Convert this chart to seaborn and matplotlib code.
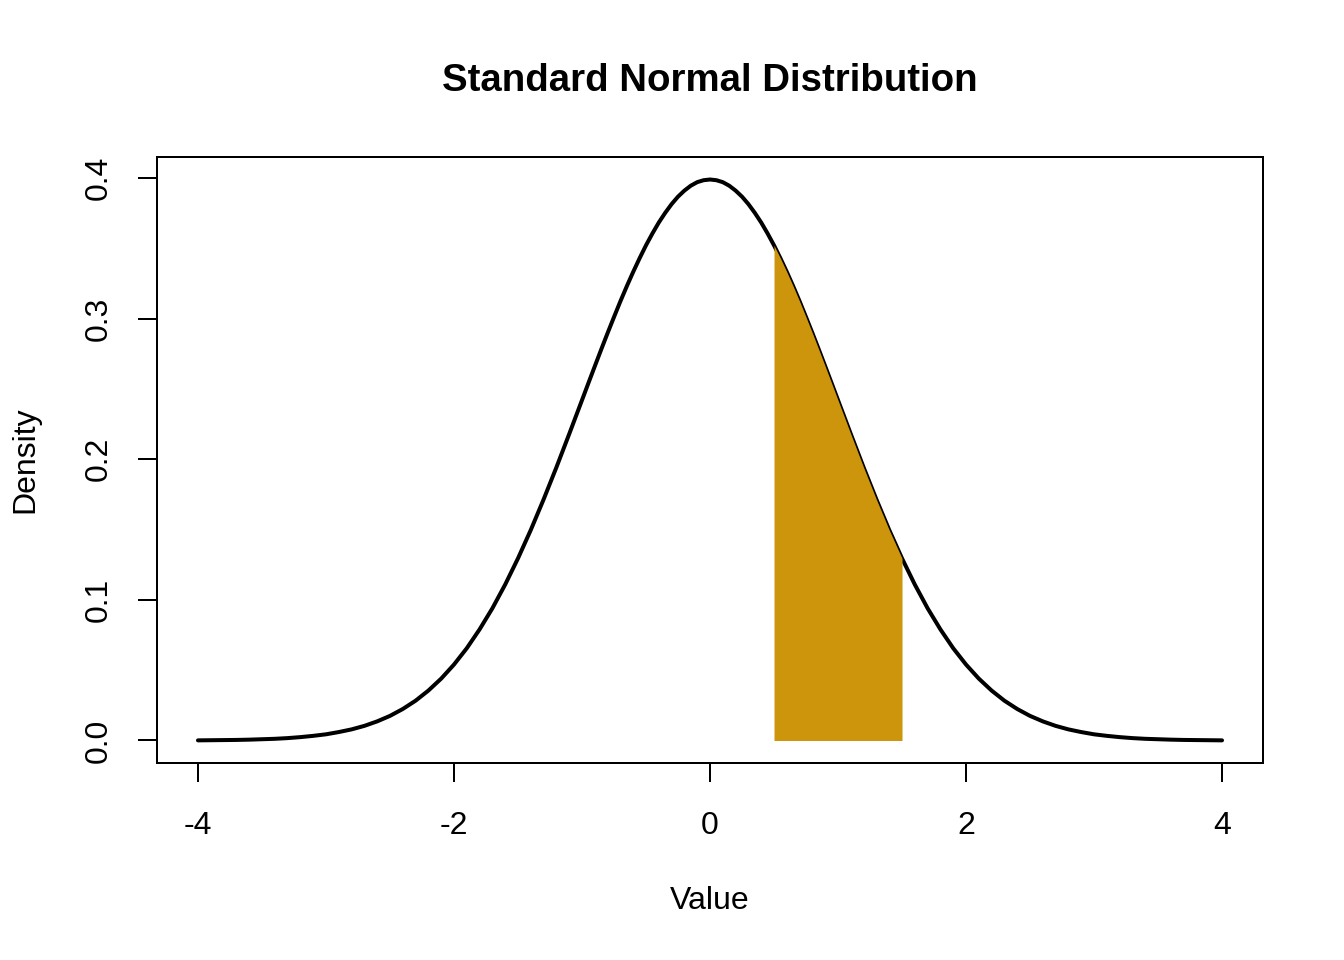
import matplotlib
matplotlib.use("Agg")
import matplotlib.pyplot as plt
import seaborn as sns
import numpy as np

# density values (finer steps around the peak)
x_vals = [-4.0, -3.9, -3.8, -3.7, -3.6, -3.5, -3.4, -3.3, -3.2, -3.1,
          -3.0, -2.9, -2.8, -2.7, -2.6, -2.5, -2.4, -2.3, -2.2, -2.1,
          -2.0, -1.9, -1.8, -1.7, -1.6, -1.5, -1.4, -1.3, -1.2, -1.1,
          -1.0, -0.95, -0.9, -0.85, -0.8, -0.75, -0.7, -0.65, -0.6, -0.55,
          -0.5, -0.45, -0.4, -0.35, -0.3, -0.25, -0.2, -0.15, -0.1, -0.05,
          0.0, 0.05, 0.1, 0.15, 0.2, 0.25, 0.3, 0.35, 0.4, 0.45,
          0.5, 0.55, 0.6, 0.65, 0.7, 0.75, 0.8, 0.85, 0.9, 0.95,
          1.0, 1.1, 1.2, 1.3, 1.4, 1.5, 1.6, 1.7, 1.8, 1.9,
          2.0, 2.1, 2.2, 2.3, 2.4, 2.5, 2.6, 2.7, 2.8, 2.9,
          3.0, 3.1, 3.2, 3.3, 3.4, 3.5, 3.6, 3.7, 3.8, 3.9, 4.0]
density = [0.0001, 0.0002, 0.0003, 0.0004, 0.0006, 0.0009, 0.0012, 0.0017, 0.0024, 0.0033,
           0.0044, 0.0060, 0.0079, 0.0104, 0.0136, 0.0175, 0.0224, 0.0283, 0.0355, 0.0440,
           0.0540, 0.0656, 0.0790, 0.0940, 0.1109, 0.1295, 0.1497, 0.1714, 0.1942, 0.2179,
           0.2420, 0.2541, 0.2661, 0.2780, 0.2897, 0.3011, 0.3123, 0.3230, 0.3332, 0.3429,
           0.3521, 0.3605, 0.3683, 0.3752, 0.3814, 0.3867, 0.3910, 0.3945, 0.3970, 0.3984,
           0.3989, 0.3984, 0.3970, 0.3945, 0.3910, 0.3867, 0.3814, 0.3752, 0.3683, 0.3605,
           0.3521, 0.3429, 0.3332, 0.3230, 0.3123, 0.3011, 0.2897, 0.2780, 0.2661, 0.2541,
           0.2420, 0.2179, 0.1942, 0.1714, 0.1497, 0.1295, 0.1109, 0.0940, 0.0790, 0.0656,
           0.0540, 0.0440, 0.0355, 0.0283, 0.0224, 0.0175, 0.0136, 0.0104, 0.0079, 0.0060,
           0.0044, 0.0033, 0.0024, 0.0017, 0.0012, 0.0009, 0.0006, 0.0004, 0.0003, 0.0002, 0.0001]
shade_from, shade_to = 0.5, 1.5
x_ticks = [-4, -2, 0, 2, 4]
y_ticks = [0.0, 0.1, 0.2, 0.3, 0.4]
y_tick_labels = ["0.0", "0.1", "0.2", "0.3", "0.4"]

sns.set_style("white")
plt.rcParams["font.family"] = ["Liberation Sans", "DejaVu Sans"]
plt.rcParams["axes.unicode_minus"] = False
plt.rcParams["text.color"] = "black"

fig = plt.figure(figsize=(7, 5), dpi=192)
ax = fig.add_axes([157/1344, 1 - 763/960, (1263 - 157)/1344, (763 - 157)/960])

xs = np.array(x_vals)
ys = np.array(density)
sns.lineplot(x=xs, y=ys, ax=ax, color="black", linewidth=1.5, zorder=2)
mask = (xs >= shade_from - 1e-9) & (xs <= shade_to + 1e-9)
ax.fill_between(xs[mask], 0, ys[mask], color="#CD950C", linewidth=0, zorder=3)

ax.set_xlim(-4.32, 4.32)
ax.set_ylim(-0.016, 0.4149)
ax.set_xticks(x_ticks)
ax.set_xticklabels([str(t) for t in x_ticks])
ax.set_yticks(y_ticks)
ax.set_yticklabels(y_tick_labels, rotation=90, va="center")
for s in ax.spines.values():
    s.set_visible(True)
    s.set_color("black")
    s.set_linewidth(0.75)
ax.tick_params(axis="both", direction="out", length=7.2, width=0.75,
               color="black", labelsize=12, labelcolor="black",
               bottom=True, left=True)
ax.tick_params(axis="x", pad=10.7)
ax.tick_params(axis="y", pad=9)
ax.set_xlabel("")
ax.set_ylabel("")

fig.text(0.528, 1 - 901/960, "Value", ha="center", va="center", fontsize=12,
         color="black")
fig.text(25/1344, 1 - 460/960, "Density", ha="center", va="center",
         rotation=90, fontsize=12, color="black")
fig.text(0.528, 1 - 81/960, "Standard Normal Distribution", ha="center",
         va="center", fontsize=14.4, fontweight="bold", color="black")

fig.savefig("out.png", dpi=192)
